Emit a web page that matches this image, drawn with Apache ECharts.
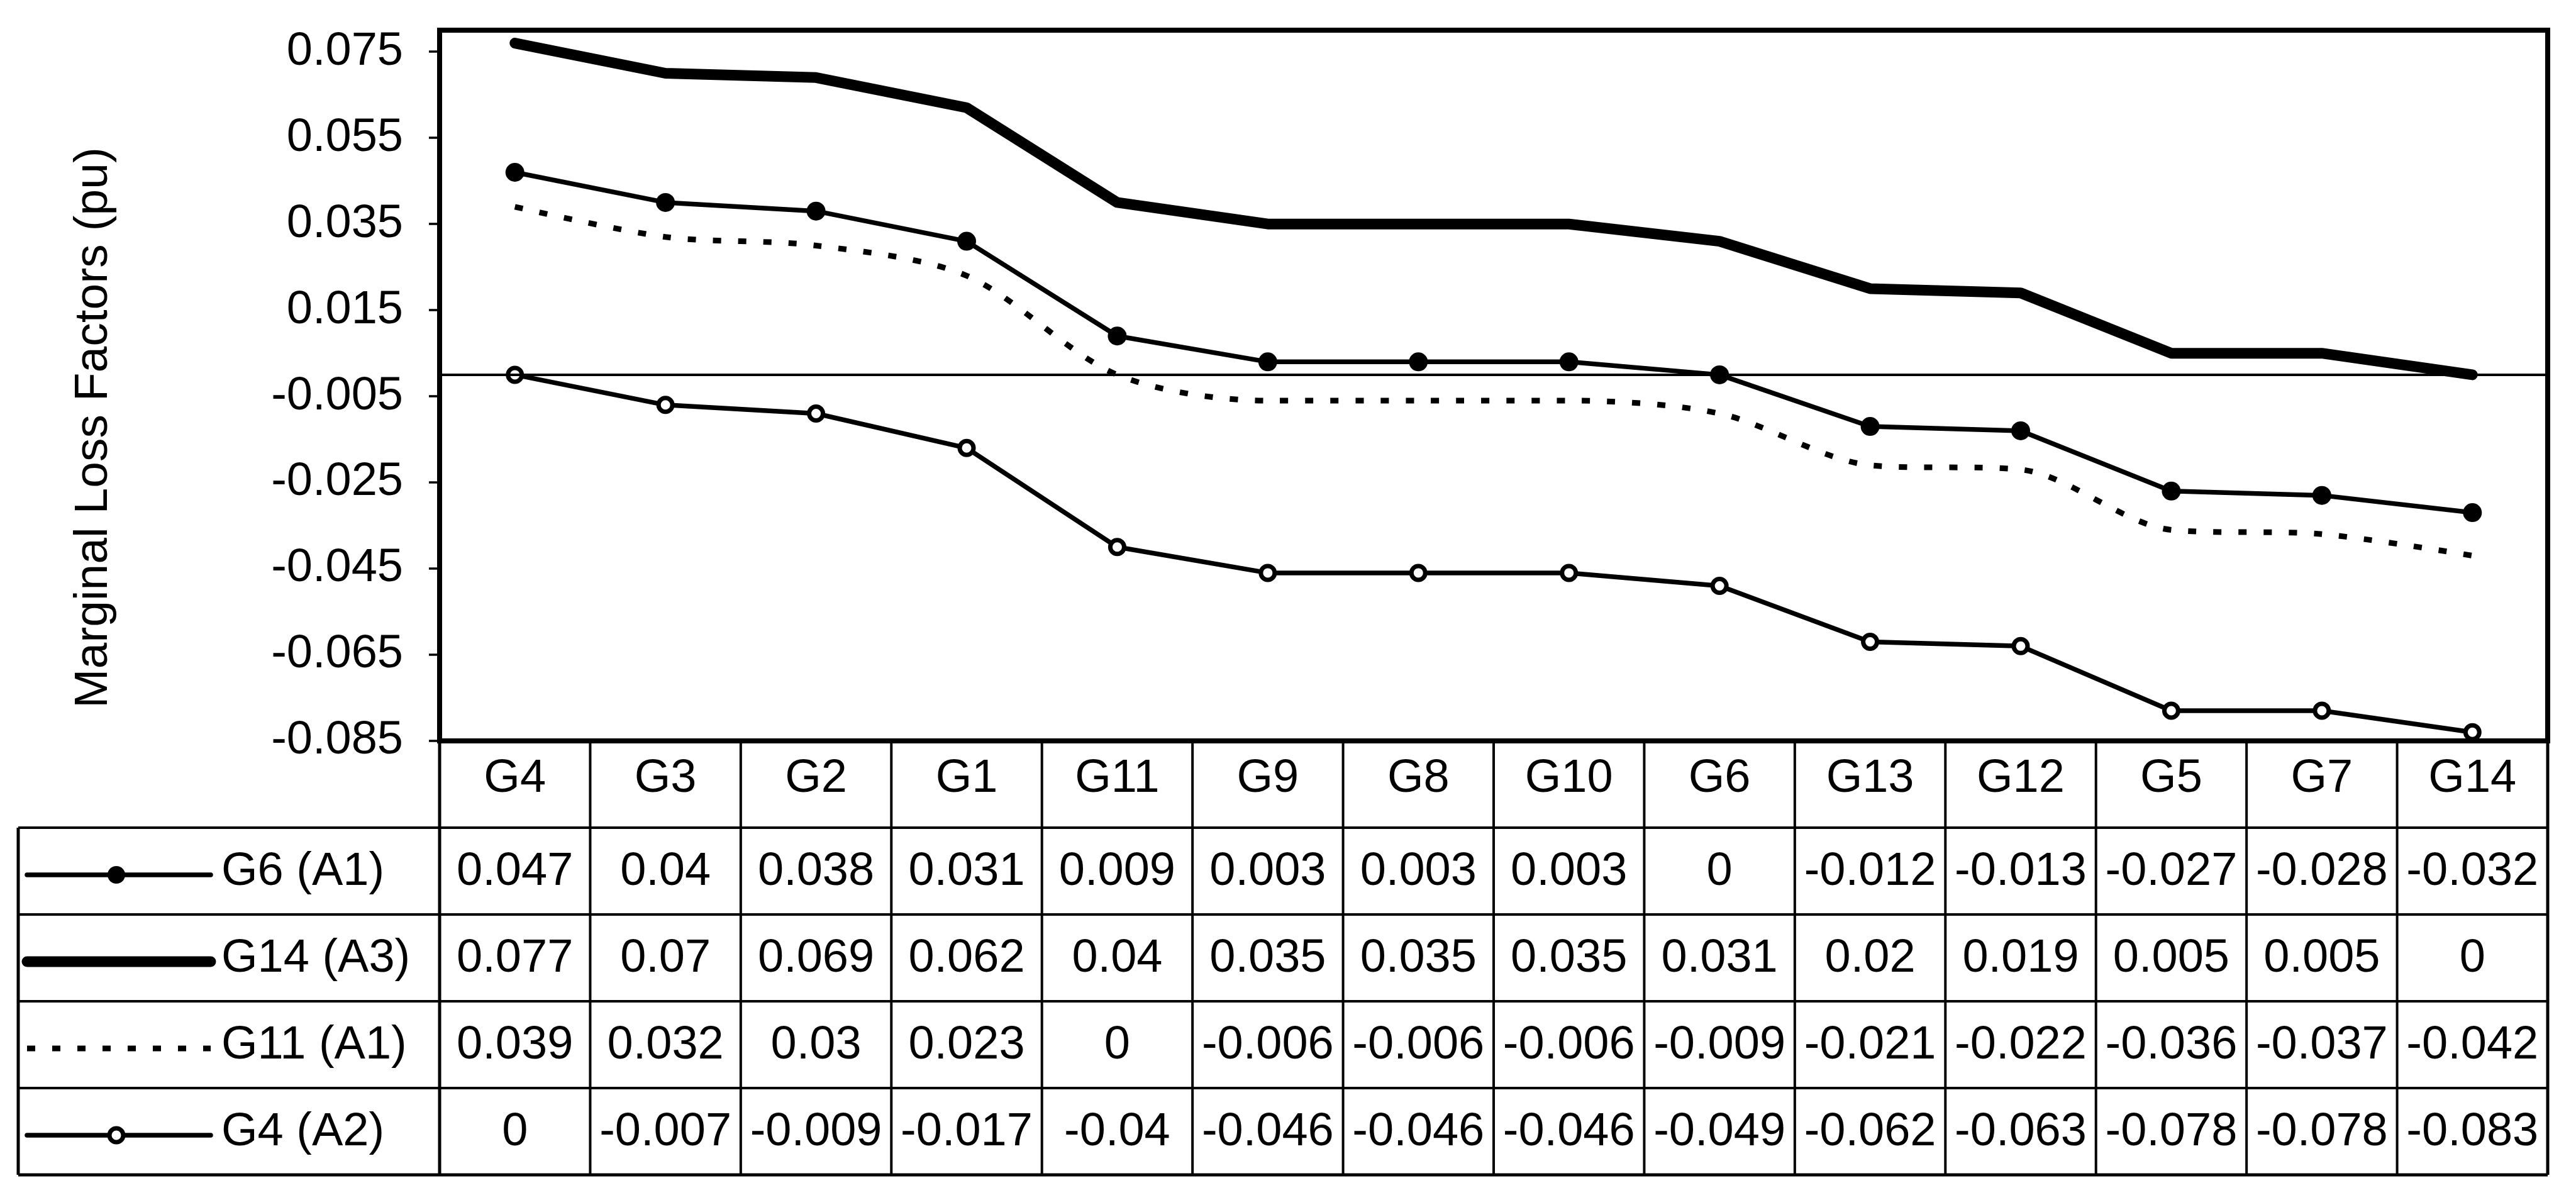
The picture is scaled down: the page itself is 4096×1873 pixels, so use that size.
<!DOCTYPE html>
<html>
<head>
<meta charset="utf-8">
<script src="https://cdn.jsdelivr.net/npm/echarts@6/dist/echarts.min.js"></script>
<style>
html,body{margin:0;padding:0;background:#fff;}
#chart{width:4096px;height:1873px;}
</style>
</head>
<body>
<div id="chart"></div>
<script>
// ---------- data ----------
const categories = ['G4','G3','G2','G1','G11','G9','G8','G10','G6','G13','G12','G5','G7','G14'];
const seriesNames = ['G6 (A1)','G14 (A3)','G11 (A1)','G4 (A2)'];
const g6A1  = [0.047,0.04,0.038,0.031,0.009,0.003,0.003,0.003,0,-0.012,-0.013,-0.027,-0.028,-0.032];
const g14A3 = [0.077,0.07,0.069,0.062,0.04,0.035,0.035,0.035,0.031,0.02,0.019,0.005,0.005,0];
const g11A1 = [0.039,0.032,0.03,0.023,0,-0.006,-0.006,-0.006,-0.009,-0.021,-0.022,-0.036,-0.037,-0.042];
const g4A2  = [0,-0.007,-0.009,-0.017,-0.04,-0.046,-0.046,-0.046,-0.049,-0.062,-0.063,-0.078,-0.078,-0.083];
const yTickValues = [-0.085,-0.065,-0.045,-0.025,-0.005,0.015,0.035,0.055,0.075];
const yTickLabels = ['-0.085','-0.065','-0.045','-0.025','-0.005','0.015','0.035','0.055','0.075'];
const yMin = -0.085, yMax = 0.08;
const yAxisTitle = 'Marginal Loss Factors (pu)';

// ---------- layout / style ----------
const FONT = "'Liberation Sans', Arial, sans-serif";
const FS = 74;
const GRID_LEFT = 699, GRID_RIGHT = 45, GRID_TOP = 48, GRID_BOTTOM = 695;
const ROW_H = 138;
const LEGEND_LEFT = 29;
const SAMPLE_X0 = 43, SAMPLE_X1 = 335, SAMPLE_MARK = 185, LABEL_X = 352;
const THIN = 7.5, THICK = 17, DOT_W = 9, DOT_DASH = [13, 27];
const RULE = 4;

const chart = echarts.init(document.getElementById('chart'), null, {renderer: 'canvas'});

const baseOption = {
  animation: false,
  backgroundColor: '#fff',
  grid: {left: GRID_LEFT, right: GRID_RIGHT, top: GRID_TOP, bottom: GRID_BOTTOM,
         show: true, borderColor: '#000', borderWidth: 8, backgroundColor: 'transparent'},
  xAxis: {
    type: 'category', data: categories, boundaryGap: true,
    axisLine: {show: false}, axisTick: {show: false}, splitLine: {show: false},
    axisLabel: {interval: 0, fontFamily: FONT, fontSize: FS, color: '#000', margin: 24}
  },
  yAxis: {
    type: 'value', min: yMin, max: yMax,
    axisLine: {show: false}, splitLine: {show: false},
    axisTick: {show: true, inside: false, length: 17, customValues: yTickValues,
               lineStyle: {color: '#000', width: 3.5}},
    axisLabel: {customValues: yTickValues, margin: 58, fontFamily: FONT, fontSize: FS, color: '#000',
      formatter: function (v) {
        for (let i = 0; i < yTickValues.length; i++) if (Math.abs(yTickValues[i] - v) < 1e-9) return yTickLabels[i];
        return '';
      }}
  },
  series: [
    {name: seriesNames[1], type: 'line', data: g14A3, symbol: 'none', z: 3,
     lineStyle: {color: '#000', width: THICK, cap: 'round', join: 'round'}, itemStyle: {color: '#000'},
     markLine: {silent: true, symbol: ['none','none'], label: {show: false},
                lineStyle: {color: '#000', width: 4, type: 'solid'}, data: [{yAxis: 0}]}},
    {name: seriesNames[0], type: 'line', data: g6A1, symbol: 'circle', symbolSize: 30, z: 4,
     lineStyle: {color: '#000', width: THIN}, itemStyle: {color: '#000'}},
    {name: seriesNames[2], type: 'line', data: g11A1, symbol: 'none', smooth: 0.3, z: 3,
     lineStyle: {color: '#000', width: DOT_W, type: DOT_DASH, cap: 'butt'}, itemStyle: {color: '#000'}},
    {name: seriesNames[3], type: 'line', data: g4A2, symbol: 'circle', symbolSize: 22, z: 4,
     lineStyle: {color: '#000', width: THIN},
     itemStyle: {color: '#fff', borderColor: '#000', borderWidth: 7}}
  ]
};
chart.setOption(baseOption);

// ---------- data table under the plot ----------
const rowsValues = [g6A1, g14A3, g11A1, g4A2];
const x0 = chart.convertToPixel({xAxisIndex: 0}, categories[0]);
const x1 = chart.convertToPixel({xAxisIndex: 0}, categories[1]);
const colW = x1 - x0;
const plotLeft = x0 - colW / 2;
const plotRight = plotLeft + colW * categories.length;
const plotBottom = chart.convertToPixel({yAxisIndex: 0}, yMin);
const tableBottom = plotBottom + ROW_H * 5;

const g = [];
const lineStyle = {stroke: '#000', lineWidth: RULE};
// horizontal rules
for (let k = 1; k <= 5; k++) {
  const y = plotBottom + ROW_H * k;
  g.push({type: 'line', shape: {x1: LEGEND_LEFT, y1: y, x2: plotRight, y2: y},
          style: Object.assign({}, lineStyle, {lineWidth: k === 5 ? 5 : RULE})});
}
// vertical rules
for (let j = 0; j <= categories.length; j++) {
  const x = plotLeft + colW * j;
  g.push({type: 'line', shape: {x1: x, y1: plotBottom, x2: x, y2: tableBottom},
          style: Object.assign({}, lineStyle, {lineWidth: (j === 0 || j === categories.length) ? 5 : RULE})});
}
g.push({type: 'line', shape: {x1: LEGEND_LEFT, y1: plotBottom + ROW_H, x2: LEGEND_LEFT, y2: tableBottom},
        style: Object.assign({}, lineStyle, {lineWidth: 5})});

// values
rowsValues.forEach(function (vals, r) {
  const cy = plotBottom + ROW_H * (r + 1.5);
  vals.forEach(function (v, c) {
    const cx = chart.convertToPixel({xAxisIndex: 0}, categories[c]);
    g.push({type: 'text', x: cx, y: cy + 2,
            style: {text: String(v), fill: '#000', font: FS + 'px ' + FONT, align: 'center', verticalAlign: 'middle'}});
  });
});

// legend keys in the first column
const legendOrder = [
  {name: seriesNames[0], width: THIN, dash: null, marker: 'filled'},
  {name: seriesNames[1], width: THICK, dash: null, marker: null},
  {name: seriesNames[2], width: DOT_W, dash: DOT_DASH, marker: null},
  {name: seriesNames[3], width: THIN, dash: null, marker: 'open'}
];
legendOrder.forEach(function (it, r) {
  const cy = plotBottom + ROW_H * (r + 1.5);
  const ly = cy + 6;
  const st = {stroke: '#000', lineWidth: it.width, lineCap: it.dash ? 'butt' : 'round'};
  if (it.dash) st.lineDash = it.dash;
  g.push({type: 'line', shape: {x1: SAMPLE_X0, y1: ly, x2: SAMPLE_X1, y2: ly}, style: st});
  if (it.marker === 'filled') {
    g.push({type: 'circle', shape: {cx: SAMPLE_MARK, cy: ly, r: 14}, style: {fill: '#000'}});
  } else if (it.marker === 'open') {
    g.push({type: 'circle', shape: {cx: SAMPLE_MARK, cy: ly, r: 11}, style: {fill: '#fff', stroke: '#000', lineWidth: 7}});
  }
  g.push({type: 'text', x: LABEL_X, y: cy + 2,
          style: {text: it.name, fill: '#000', font: FS + 'px ' + FONT, align: 'left', verticalAlign: 'middle'}});
});

// y-axis title
g.push({type: 'text', x: 149, y: 680, rotation: Math.PI / 2,
        style: {text: yAxisTitle, fill: '#000', font: (FS + 1) + 'px ' + FONT, align: 'center', verticalAlign: 'middle'}});

chart.setOption({graphic: {elements: g}});
</script>
</body>
</html>
